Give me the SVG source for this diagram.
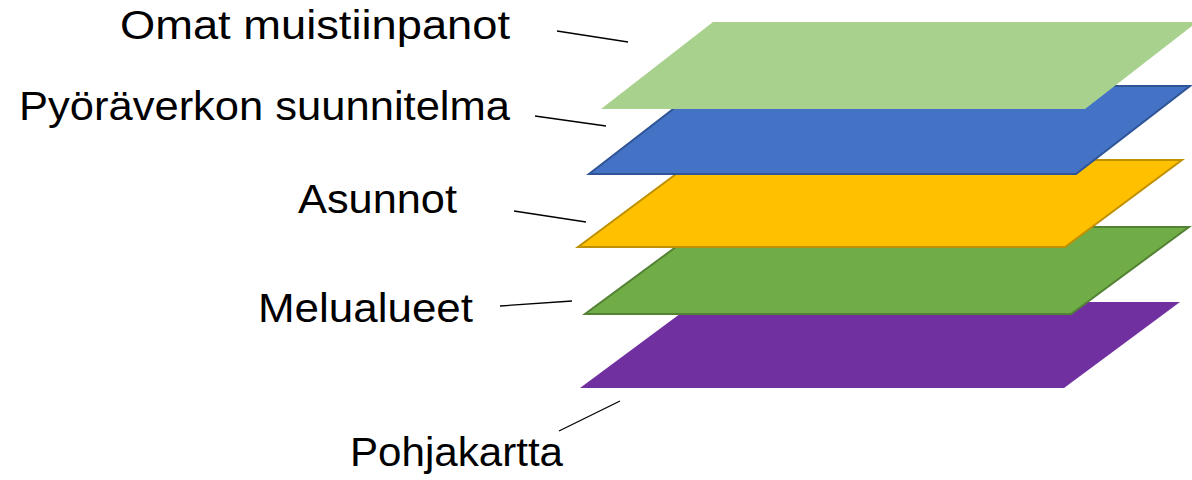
<svg xmlns="http://www.w3.org/2000/svg" width="1192" height="480" viewBox="0 0 1192 480">
  <style>
    .lbl { font-family: "Liberation Sans", Arial, sans-serif; font-size: 40px; fill: #000000; }
    .lead { stroke: #000000; stroke-width: 1.3; fill: none; }
    .layer { stroke-width: 2; stroke-linejoin: miter; }
  </style>
  <rect width="1192" height="480" fill="#FFFFFF"/>
  <g id="layer-pohjakartta">
    <polygon points="580,388 1064,388 1180,302 696,302" fill="#7030A0"/>
  </g>
  <g id="layer-melualueet">
    <polygon class="layer" points="585,314 1071,314 1189,227 703,227" fill="#70AD47" stroke="#548235"/>
  </g>
  <g id="layer-asunnot">
    <polygon class="layer" points="578,247 1065,247 1182,160 695,160" fill="#FFC000" stroke="#BF9000"/>
  </g>
  <g id="layer-pyoraverkko">
    <polygon class="layer" points="589,174 1076,174 1190,86 703,86" fill="#4472C4" stroke="#2F5597"/>
  </g>
  <g id="layer-omat">
    <polygon points="601,109 1085,109 1197,22 713,22" fill="#A9D18E"/>
  </g>
  <g id="labels">
    <text id="t-omat" class="lbl" x="120" y="39" textLength="390" lengthAdjust="spacingAndGlyphs">Omat muistiinpanot</text>
    <text id="t-pyora" class="lbl" x="19" y="120" textLength="491" lengthAdjust="spacingAndGlyphs">Pyöräverkon suunnitelma</text>
    <text id="t-asunnot" class="lbl" x="298" y="213" textLength="159" lengthAdjust="spacingAndGlyphs">Asunnot</text>
    <text id="t-melu" class="lbl" x="258" y="322" textLength="215" lengthAdjust="spacingAndGlyphs">Melualueet</text>
    <text id="t-pohja" class="lbl" x="350" y="466" textLength="213" lengthAdjust="spacingAndGlyphs">Pohjakartta</text>
  </g>
  <g id="connectors">
    <line class="lead" x1="557" y1="31" x2="628" y2="42"/>
    <line class="lead" x1="535" y1="116" x2="606" y2="126"/>
    <line class="lead" x1="514" y1="211" x2="586" y2="222"/>
    <line class="lead" x1="500" y1="306" x2="572" y2="301"/>
    <line class="lead" x1="559" y1="431" x2="620" y2="401"/>
  </g>
</svg>
